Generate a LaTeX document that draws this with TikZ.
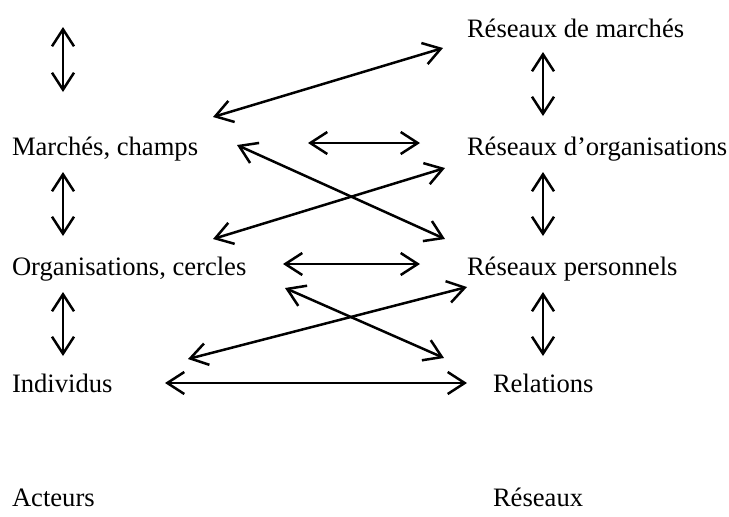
\documentclass[tikz,border=0pt]{standalone}
\usepackage{fontspec}
\setmainfont{Liberation Serif}
\usepackage{tikz}
\usetikzlibrary{arrows.meta}
\usetikzlibrary{positioning}
\tikzset{biarrow/.style = {line width=1.25pt,
                           {Straight Barb[length=8.5pt,width=11pt]}-{Straight Barb[length=8.5pt,width=11pt]}}}
\tikzset{etiquette/.style = {anchor=base west, inner sep=0pt, outer sep=0pt,
                             font=\fontsize{13.3}{15}\selectfont}}

\begin{document}
\begin{tikzpicture}[x=0.5pt, y=-0.5pt]
      \useasboundingbox (0,0) rectangle (729,516);

      % acteurs
      \node [etiquette] (marches) at (12,155) {Marchés, champs};
      \node [etiquette] (organisations) at (12,275) {Organisations, cercles};
      \node [etiquette] (individus) at (12,392) {Individus};
      \node [etiquette] (acteurs) at (12,506) {Acteurs};

      % reseaux
      \node [etiquette] (rmarches) at (467,37) {Réseaux de marchés};
      \node [etiquette] (rorganisations) at (467,155) {Réseaux d’organisations};
      \node [etiquette] (rpersonnels) at (467,275) {Réseaux personnels};
      \node [etiquette] (relations) at (493,392) {Relations};
      \node [etiquette] (reseaux) at (493,506) {Réseaux};

      % bouts des fleches
      \coordinate (g1h) at (63,27);   \coordinate (g1b) at (63,92);
      \coordinate (g2h) at (63,172);  \coordinate (g2b) at (63,236);
      \coordinate (g3h) at (63,292);  \coordinate (g3b) at (63,356);
      \coordinate (d1h) at (543,52);  \coordinate (d1b) at (543,116);
      \coordinate (d2h) at (543,172); \coordinate (d2b) at (543,236);
      \coordinate (d3h) at (543,292); \coordinate (d3b) at (543,356);
      \coordinate (h1g) at (308,143); \coordinate (h1d) at (420,143);
      \coordinate (h2g) at (283,264); \coordinate (h2d) at (420,264);
      \coordinate (h3g) at (165,383); \coordinate (h3d) at (467,383);
      \coordinate (ag) at (213,117);  \coordinate (ad) at (443,48);
      \coordinate (bg) at (237,145);  \coordinate (bd) at (445,239);
      \coordinate (cg) at (213,239);  \coordinate (cd) at (445,168);
      \coordinate (dg) at (285,288);  \coordinate (dd) at (444,358);
      \coordinate (eg) at (188,359);  \coordinate (ed) at (467,287);

      \foreach \a/\b in {g1h/g1b, g2h/g2b, g3h/g3b, d1h/d1b, d2h/d2b, d3h/d3b,
                         h1g/h1d, h2g/h2d, h3g/h3d, ag/ad, bg/bd, cg/cd, dg/dd, eg/ed} {
        \draw [biarrow] (\a) -- (\b);
      }
    \end{tikzpicture}
\end{document}
